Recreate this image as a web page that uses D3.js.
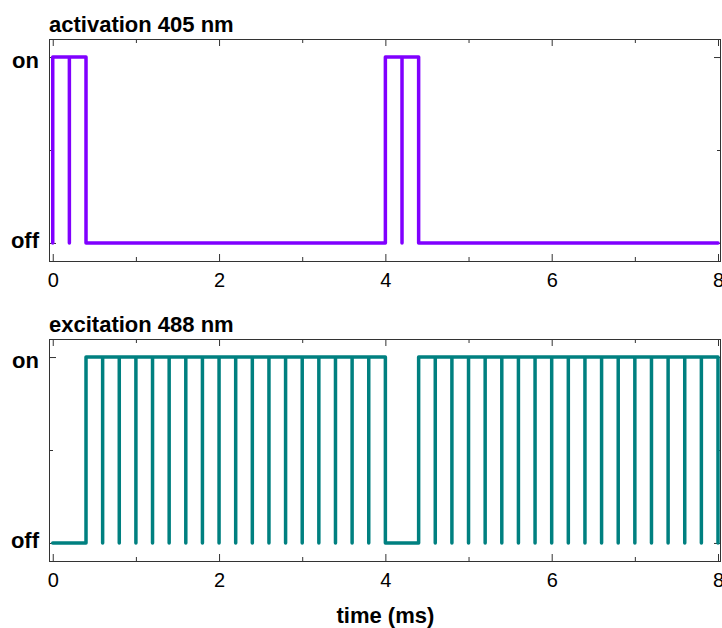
<!DOCTYPE html>
<html>
<head>
<meta charset="utf-8">
<script src="https://cdn.jsdelivr.net/npm/d3@7"></script>
<style>
  body { margin: 0; background: #fff; }
  svg text { font-family: "Liberation Sans", Arial, sans-serif; fill: #000; }
  .axis path { display: none; }
  .axis line { stroke: #333; stroke-width: 1; }
  .frame { fill: none; stroke: #333; stroke-width: 1; }
  .title, .level, .xlabel { font-weight: bold; font-size: 22px; }
  .tick text { font-size: 20px; }
</style>
</head>
<body>
<div id="chart"></div>
<script>
// pulse timing (ms)
const pulseWidth = 0.2;
const timeEnd = 8;
const activationOn = [0, 0.2, 4.0, 4.2];
const excitationOn = [0.4, 0.6, 0.8, 1.0, 1.2, 1.4, 1.6, 1.8, 2.0, 2.2, 2.4, 2.6, 2.8, 3.0, 3.2, 3.4, 3.6, 3.8,
                      4.4, 4.6, 4.8, 5.0, 5.2, 5.4, 5.6, 5.8, 6.0, 6.2, 6.4, 6.6, 6.8, 7.0, 7.2, 7.4, 7.6, 7.8];

// axis ticks
const majorTimeTicks = [0, 2, 4, 6, 8];
const minorTimeTicks = [1, 3, 5, 7];
const levelTicks = [0, 1];
const levelLabels = ["off", "on"];
const midLevelTicks = [0.5];

const panels = [
  {title: "activation 405 nm", pulses: activationOn, color: "#8000ff", top: 39},
  {title: "excitation 488 nm", pulses: excitationOn, color: "#008080", top: 339}
];

var width = 722, height = 628;
var left = 49, right = 721, panelH = 222;

var x = d3.scaleLinear().domain([-0.045, 8.036]).range([left, right]);

var svg = d3.select("#chart").append("svg")
  .attr("width", width)
  .attr("height", height);

// step trace: off at start, each pulse goes up then back down
function stepPoints(pulses) {
  var pts = [[0, 0]];
  pulses.forEach(function(s) {
    pts.push([s, 0], [s, 1], [s + pulseWidth, 1], [s + pulseWidth, 0]);
  });
  pts.push([timeEnd, 0]);
  return pts;
}

panels.forEach(function(p) {
  var y = d3.scaleLinear().domain([-0.097, 1.097]).range([p.top + panelH, p.top]);
  var g = svg.append("g");

  // ticks on all four sides, pointing inward
  g.append("g").attr("class", "axis")
    .attr("transform", "translate(0," + (p.top + panelH) + ")")
    .call(d3.axisBottom(x).tickValues(majorTimeTicks).tickSize(-7).tickPadding(12).tickFormat(d3.format("d")));
  g.append("g").attr("class", "axis")
    .attr("transform", "translate(0," + (p.top + panelH) + ")")
    .call(d3.axisBottom(x).tickValues(minorTimeTicks).tickSize(-4).tickFormat(""));
  g.append("g").attr("class", "axis")
    .attr("transform", "translate(0," + p.top + ")")
    .call(d3.axisTop(x).tickValues(majorTimeTicks).tickSize(-7).tickFormat(""));
  g.append("g").attr("class", "axis")
    .attr("transform", "translate(0," + p.top + ")")
    .call(d3.axisTop(x).tickValues(minorTimeTicks).tickSize(-4).tickFormat(""));

  g.append("g").attr("class", "axis")
    .attr("transform", "translate(" + left + ",0)")
    .call(d3.axisLeft(y).tickValues(levelTicks).tickSize(-7).tickFormat(""));
  g.append("g").attr("class", "axis")
    .attr("transform", "translate(" + left + ",0)")
    .call(d3.axisLeft(y).tickValues(midLevelTicks).tickSize(-4).tickFormat(""));
  g.append("g").attr("class", "axis")
    .attr("transform", "translate(" + right + ",0)")
    .call(d3.axisRight(y).tickValues(levelTicks).tickSize(-7).tickFormat(""));
  g.append("g").attr("class", "axis")
    .attr("transform", "translate(" + right + ",0)")
    .call(d3.axisRight(y).tickValues(midLevelTicks).tickSize(-4).tickFormat(""));

  // off / on labels
  g.selectAll(".level")
    .data(levelTicks)
    .enter().append("text")
    .attr("class", "level")
    .attr("x", left - 10)
    .attr("y", function(d) { return y(d); })
    .attr("dy", function(d) { return d === 1 ? "0.52em" : "0.24em"; })
    .attr("text-anchor", "end")
    .text(function(d, i) { return levelLabels[i]; });

  g.append("rect")
    .attr("class", "frame")
    .attr("x", left + 0.5)
    .attr("y", p.top + 0.5)
    .attr("width", right - left - 1)
    .attr("height", panelH);

  g.append("text")
    .attr("class", "title")
    .attr("x", left)
    .attr("y", p.top - 7)
    .text(p.title);

  var line = d3.line()
    .x(function(d) { return x(d[0]); })
    .y(function(d) { return y(d[1]); });

  g.append("path")
    .datum(stepPoints(p.pulses))
    .attr("fill", "none")
    .attr("stroke", p.color)
    .attr("stroke-width", 3.5)
    .attr("stroke-linejoin", "round")
    .attr("stroke-linecap", "round")
    .attr("d", line);
});

svg.append("text")
  .attr("class", "xlabel")
  .attr("x", x(4))
  .attr("y", 623)
  .attr("text-anchor", "middle")
  .text("time (ms)");
</script>
</body>
</html>
